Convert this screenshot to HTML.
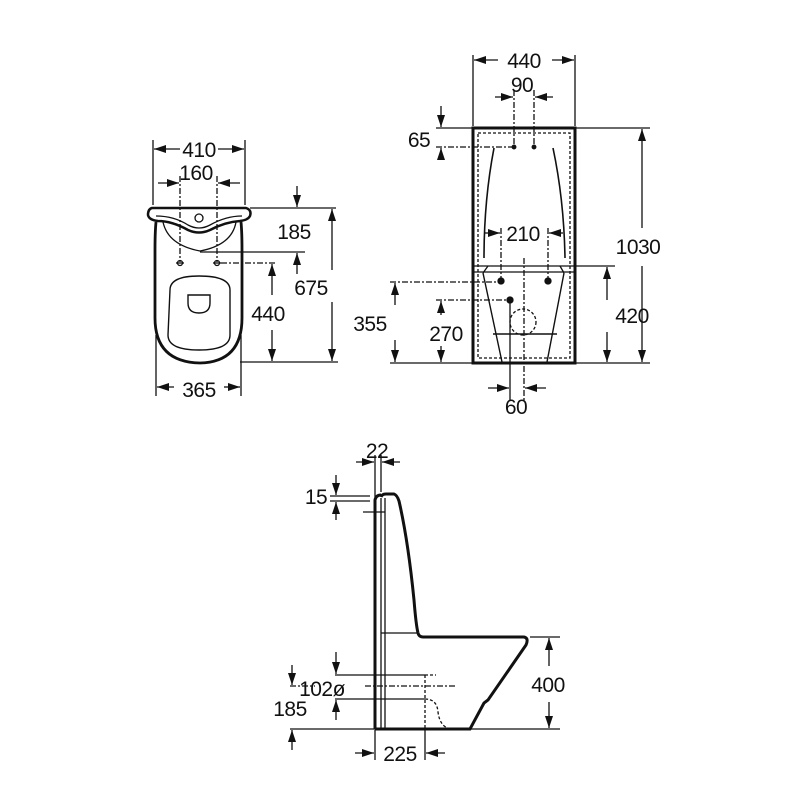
<!DOCTYPE html>
<html><head><meta charset="utf-8"><style>
html,body{margin:0;padding:0;background:#fff}
svg{display:block}
text{font-family:"Liberation Sans",sans-serif;font-size:21px;fill:#111;text-anchor:middle;letter-spacing:-0.5px}
</style></head><body>
<svg width="800" height="800" viewBox="0 0 800 800" xmlns="http://www.w3.org/2000/svg">
<defs>
<marker id="a" viewBox="0 0 12 8" refX="12" refY="4" markerWidth="12" markerHeight="8" markerUnits="userSpaceOnUse" orient="auto"><path d="M0,0L12,4L0,8z" fill="#111"/></marker>
</defs>
<g stroke="#111" fill="none" stroke-width="1.3">
<!-- ===== FRONT VIEW ===== -->
<line x1="153" y1="140" x2="153" y2="205"/><line x1="245" y1="140" x2="245" y2="205"/>
<line x1="180" y1="149" x2="154" y2="149" marker-end="url(#a)"/><line x1="218" y1="149" x2="244" y2="149" marker-end="url(#a)"/>
<line x1="158" y1="183" x2="179" y2="183" marker-end="url(#a)"/><line x1="240" y1="183" x2="218" y2="183" marker-end="url(#a)"/>
<line x1="180" y1="176" x2="180" y2="262" stroke-dasharray="6,2,2,2"/><line x1="217" y1="176" x2="217" y2="262" stroke-dasharray="6,2,2,2"/>
<path d="M152,208 L246,208 Q252,210 250,216 Q248,220 240,221 Q225,222 210,230 Q199,235 188,230 Q172,221 158,221 Q149,220 148,215 Q148,209 152,208Z" stroke-width="2.5"/>
<path d="M156,216 Q174,216 188,225 Q199,231 210,225 Q226,216 242,216" />
<circle cx="199" cy="218" r="4"/>
<path d="M163,222 Q168,245 200,251 Q232,245 236,222"/>
<line x1="200" y1="252" x2="305" y2="252"/>
<path d="M156,222 Q155,232 155,250 L155,318 Q155,362 200,363 Q242,362 242,318 L242,250 Q242,232 241,222" stroke-width="2.8"/>
<path d="M170,290 Q170,276 199,276 Q230,276 230,290 L230,335 Q230,350 199,350 Q168,350 168,335Z" stroke-width="1.4"/>
<path d="M188,295 L210,295 L210,303 Q210,313 199,313 Q188,313 188,303Z" stroke-width="1.4"/>
<circle cx="180" cy="263" r="2.5"/><circle cx="217" cy="263" r="2.5"/>
<line x1="176" y1="263" x2="184" y2="263"/><line x1="213" y1="263" x2="221" y2="263"/>
<line x1="221" y1="263" x2="276" y2="263" stroke-dasharray="6,2,2,2"/>
<line x1="250" y1="208" x2="336" y2="208"/>
<line x1="240" y1="362" x2="338" y2="362"/>
<line x1="297" y1="186" x2="297" y2="207" marker-end="url(#a)"/><line x1="297" y1="274" x2="297" y2="253" marker-end="url(#a)"/>
<line x1="332" y1="270" x2="332" y2="209" marker-end="url(#a)"/><line x1="332" y1="302" x2="332" y2="361" marker-end="url(#a)"/>
<line x1="272" y1="295" x2="272" y2="264" marker-end="url(#a)"/><line x1="272" y1="330" x2="272" y2="361" marker-end="url(#a)"/>
<line x1="156" y1="335" x2="156" y2="396"/><line x1="241" y1="335" x2="241" y2="396"/>
<line x1="174" y1="387" x2="157" y2="387" marker-end="url(#a)"/><line x1="224" y1="387" x2="240" y2="387" marker-end="url(#a)"/>

<!-- ===== TANK VIEW ===== -->
<rect x="473" y="128" width="102" height="235" stroke-width="3"/>
<rect x="478" y="133" width="92" height="225" stroke-dasharray="3,2"/>
<line x1="473" y1="55" x2="473" y2="126"/><line x1="575" y1="55" x2="575" y2="126"/>
<line x1="498" y1="60" x2="474" y2="60" marker-end="url(#a)"/><line x1="552" y1="60" x2="574" y2="60" marker-end="url(#a)"/>
<line x1="495" y1="97" x2="513" y2="97" marker-end="url(#a)"/><line x1="553" y1="97" x2="535" y2="97" marker-end="url(#a)"/>
<line x1="514" y1="90" x2="514" y2="150" stroke-dasharray="6,2,2,2"/><line x1="534" y1="90" x2="534" y2="150" stroke-dasharray="6,2,2,2"/>
<line x1="436" y1="128" x2="472" y2="128"/>
<line x1="436" y1="147" x2="514" y2="147" stroke-dasharray="6,2,2,2"/>
<circle cx="514" cy="147" r="1.8" fill="#111"/><circle cx="534" cy="147" r="1.8" fill="#111"/>
<line x1="441" y1="106" x2="441" y2="127" marker-end="url(#a)"/><line x1="441" y1="160" x2="441" y2="148" marker-end="url(#a)"/>
<path d="M494,148 Q484,200 484,258" stroke-width="1.6"/><path d="M553,148 Q564,200 565,258" stroke-width="1.6"/>
<line x1="484" y1="233" x2="500" y2="233" marker-end="url(#a)"/><line x1="563" y1="233" x2="549" y2="233" marker-end="url(#a)"/>
<line x1="501" y1="228" x2="501" y2="282" stroke-dasharray="6,2,2,2"/><line x1="548" y1="228" x2="548" y2="282" stroke-dasharray="6,2,2,2"/>
<line x1="473" y1="266" x2="575" y2="266"/><line x1="473" y1="272" x2="575" y2="272"/>
<path d="M483,273 L502,362 M564,273 L547,362 M493,334 L557,334" stroke-width="1.4"/>
<path d="M488,266 L483,273 M560,266 L564,273"/>
<circle cx="501" cy="281" r="3" fill="#111"/><circle cx="548" cy="281" r="3" fill="#111"/><circle cx="510" cy="300" r="3" fill="#111"/>
<circle cx="523" cy="322" r="13" stroke-dasharray="3,2"/>
<line x1="524" y1="258" x2="524" y2="400" stroke-dasharray="6,2,2,2"/>
<line x1="510" y1="300" x2="510" y2="400"/>
<line x1="390" y1="282" x2="501" y2="282" stroke-dasharray="6,2,2,2"/>
<line x1="436" y1="300" x2="510" y2="300" stroke-dasharray="6,2,2,2"/>
<line x1="390" y1="363" x2="473" y2="363"/>
<line x1="575" y1="363" x2="650" y2="363"/><line x1="575" y1="128" x2="650" y2="128"/><line x1="575" y1="266" x2="615" y2="266"/>
<line x1="395" y1="305" x2="395" y2="283" marker-end="url(#a)"/><line x1="395" y1="340" x2="395" y2="362" marker-end="url(#a)"/>
<line x1="441" y1="315" x2="441" y2="301" marker-end="url(#a)"/><line x1="441" y1="346" x2="441" y2="362" marker-end="url(#a)"/>
<line x1="607" y1="300" x2="607" y2="267" marker-end="url(#a)"/><line x1="607" y1="332" x2="607" y2="362" marker-end="url(#a)"/>
<line x1="642" y1="228" x2="642" y2="129" marker-end="url(#a)"/><line x1="642" y1="266" x2="642" y2="362" marker-end="url(#a)"/>
<line x1="488" y1="388" x2="509" y2="388" marker-end="url(#a)"/><line x1="546" y1="388" x2="525" y2="388" marker-end="url(#a)"/>

<!-- ===== SIDE VIEW ===== -->
<path d="M375,729 L375,500 Q376,495 381,495" stroke-width="3"/>
<line x1="381" y1="498" x2="381" y2="729"/><line x1="385" y1="498" x2="385" y2="729"/>
<path d="M381,497 Q382,494 386,494 L394,494 Q397,495 399,501 Q408,540 414,600 Q416,625 418,633" stroke-width="3"/>
<line x1="381" y1="633" x2="418" y2="633"/>
<path d="M418,633 Q419,637 423,637 L524,637 Q529,638 526,645 L488,700 L484,703 L470,729 L375,729" stroke-width="3"/>
<line x1="375" y1="455" x2="375" y2="497"/><line x1="381" y1="455" x2="381" y2="492"/>
<line x1="356" y1="462" x2="374" y2="462" marker-end="url(#a)"/><line x1="400" y1="462" x2="382" y2="462" marker-end="url(#a)"/>
<line x1="330" y1="496" x2="370" y2="496"/><line x1="330" y1="501" x2="370" y2="501"/><line x1="363" y1="512" x2="385" y2="512"/>
<line x1="336" y1="475" x2="336" y2="495" marker-end="url(#a)"/><line x1="336" y1="520" x2="336" y2="502" marker-end="url(#a)"/>
<line x1="335" y1="675" x2="425" y2="675"/><line x1="335" y1="699" x2="425" y2="699"/>
<line x1="365" y1="686" x2="455" y2="686" stroke-dasharray="6,2,2,2"/>
<path d="M425,675 L436,675 M425,675 L425,729 M425,699 Q437,699 438,712 Q440,728 452,729" stroke-dasharray="3,2"/>
<line x1="425" y1="729" x2="425" y2="760"/>
<line x1="336" y1="652" x2="336" y2="674" marker-end="url(#a)"/><line x1="336" y1="720" x2="336" y2="700" marker-end="url(#a)"/>
<line x1="292" y1="665" x2="292" y2="685" marker-end="url(#a)"/><line x1="292" y1="750" x2="292" y2="730" marker-end="url(#a)"/>
<line x1="290" y1="729" x2="374" y2="729"/><line x1="290" y1="686" x2="315" y2="686" stroke-dasharray="6,2,2,2"/>
<line x1="470" y1="729" x2="560" y2="729"/><line x1="530" y1="637" x2="560" y2="637"/>
<line x1="549" y1="666" x2="549" y2="638" marker-end="url(#a)"/><line x1="549" y1="702" x2="549" y2="728" marker-end="url(#a)"/>
<line x1="375" y1="729" x2="375" y2="760"/>
<line x1="355" y1="753" x2="374" y2="753" marker-end="url(#a)"/><line x1="445" y1="753" x2="426" y2="753" marker-end="url(#a)"/>
</g>
<text x="199" y="157">410</text>
<text x="196" y="180">160</text>
<text x="294" y="239">185</text>
<text x="311" y="295">675</text>
<text x="268" y="321">440</text>
<text x="199" y="397">365</text>
<text x="524" y="68">440</text>
<text x="522" y="92">90</text>
<text x="419" y="147">65</text>
<text x="523" y="241">210</text>
<text x="638" y="254">1030</text>
<text x="632" y="323">420</text>
<text x="370" y="331">355</text>
<text x="446" y="341">270</text>
<text x="516" y="414">60</text>
<text x="377" y="458">22</text>
<text x="316" y="504">15</text>
<text x="322" y="696">102ø</text>
<text x="290" y="716">185</text>
<text x="548" y="692">400</text>
<text x="400" y="761">225</text>
</svg>
</body></html>
